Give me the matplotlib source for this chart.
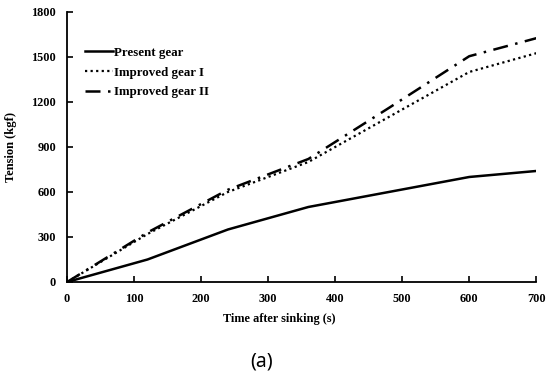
import matplotlib
matplotlib.use("Agg")
import matplotlib.pyplot as plt

time_s = [0, 120, 240, 360, 480, 600, 700]
present_gear = [0, 150, 350, 500, 600, 700, 740]
improved_gear_1 = [0, 320, 600, 800, 1100, 1400, 1525]
improved_gear_2 = [0, 330, 615, 820, 1160, 1505, 1625]
x_ticks = [0, 100, 200, 300, 400, 500, 600, 700]
y_ticks = [0, 300, 600, 900, 1200, 1500, 1800]

plt.rcParams['font.family'] = ['Liberation Serif', 'DejaVu Serif']

fig = plt.figure(figsize=(5.5, 3.74), dpi=100)
ax = fig.add_axes([0.122, 0.246, 0.853, 0.722])

ax.plot(time_s, present_gear, color='black', lw=1.8, ls='-', label='Present gear')
ax.plot(time_s, improved_gear_1, color='black', lw=1.6, ls=(0, (1, 1.5)), label='Improved gear I')
ax.plot(time_s, improved_gear_2, color='black', lw=1.8, ls=(0, (6, 3, 1, 3)), label='Improved gear II')

ax.set_xlim(0, 700)
ax.set_ylim(0, 1800)
ax.set_xticks(x_ticks)
ax.set_yticks(y_ticks)
for s in ['top', 'right']:
    ax.spines[s].set_visible(False)
for s in ['left', 'bottom']:
    ax.spines[s].set_linewidth(1.3)
ax.tick_params(direction='in', length=4, width=1.2, labelsize=8.8, pad=8)
for lbl in ax.get_xticklabels() + ax.get_yticklabels():
    lbl.set_fontweight('bold')

ax.set_xlabel('Time after sinking (s)', fontsize=8.8, fontweight='bold', labelpad=8)
ax.xaxis.set_label_coords(0.452, -0.115)
ax.set_ylabel('Tension (kgf)', fontsize=9, fontweight='bold', labelpad=10)

leg = ax.legend(loc='upper left', bbox_to_anchor=(0.027, 0.89), frameon=False,
                prop={'weight': 'bold', 'size': 9.3}, handlelength=2.2,
                handletextpad=0.05, labelspacing=0.6, borderaxespad=0)

fig.text(0.476, 0.034, '(a)', ha='center', va='center', fontsize=14, family='Noto Sans')

fig.savefig('out.png', dpi=100)
